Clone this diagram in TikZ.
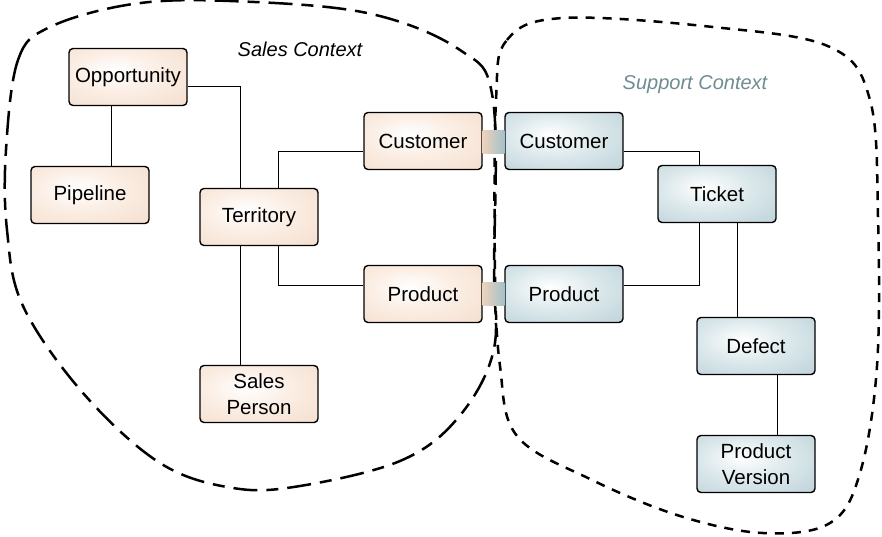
\documentclass[tikz,border=0pt]{standalone}
\usepackage{fontspec}
\setmainfont{Liberation Sans}
\usepackage{tikz}
\usepackage{xcolor}

\definecolor{salesedge}{HTML}{EFD2BC}
\definecolor{salesmid}{HTML}{FBEEE4}
\definecolor{supportedge}{HTML}{A3C1C9}
\definecolor{supportmid}{HTML}{DDE9EC}
\definecolor{supporttext}{HTML}{6E8C92}

\pgfdeclareradialshading{salesshade}{\pgfpoint{-6bp}{6bp}}{color(0bp)=(white); color(18bp)=(salesmid); color(58bp)=(salesedge); color(80bp)=(salesedge)}
\pgfdeclareradialshading{supportshade}{\pgfpoint{-6bp}{6bp}}{color(0bp)=(white); color(18bp)=(supportmid); color(58bp)=(supportedge); color(80bp)=(supportedge)}

\tikzset{
    entity/.style={draw=black, line width=1.4pt, rounded corners=4pt, minimum width=118pt, minimum height=57pt,
        inner sep=0pt, align=center, font=\fontsize{20.5}{26}\selectfont},
    salesbox/.style={entity, shading=salesshade},
    supportbox/.style={entity, shading=supportshade},
    link/.style={line width=1pt},
    contextlabel/.style={font=\fontsize{20}{24}\selectfont\itshape}
}

\begin{document}
\begin{tikzpicture}[x=1pt,y=-1pt]
    \useasboundingbox (0,0) rectangle (882,536);

    % context boundaries
    \draw[line width=2.5pt, dash pattern=on 24pt off 9pt on 12pt off 9pt] plot[smooth cycle, tension=0.6] coordinates {
        (6,150) (18,60) (50,27) (133,4) (230,1) (367,13) (460,50) (493,100) (494,270) (493,353)
        (457,419) (400,461) (300,486) (233,488) (160,463) (83,393) (23,306) (7,230)};
    \draw[line width=2.5pt, dash pattern=on 9pt off 8pt] plot[smooth cycle, tension=0.6] coordinates {
        (496,100) (507,40) (563,18) (713,27) (830,47) (870,100) (878,217) (877,366) (860,473)
        (830,523) (763,533) (680,516) (590,479) (517,436) (500,366) (495,270)};

    \node[contextlabel] (salesctx) at (300,49) {Sales Context};
    \node[contextlabel, text=supporttext] (supportctx) at (695,85) {Support Context};

    % sales entities
    \node[salesbox] (opp) at (128,77) {Opportunity};
    \node[salesbox] (pipe) at (90,195) {Pipeline};
    \node[salesbox] (terr) at (259,217) {Territory};
    \node[salesbox] (sper) at (259,394) {Sales\\Person};
    \node[salesbox] (cust) at (423,141) {Customer};
    \node[salesbox] (prod) at (423,294) {Product};

    % support entities
    \node[supportbox] (scust) at (564,141) {Customer};
    \node[supportbox] (sprod) at (564,294) {Product};
    \node[supportbox] (tick) at (717,194) {Ticket};
    \node[supportbox] (def) at (756,346) {Defect};
    \node[supportbox] (pver) at (756,464) {Product\\Version};

    % shared entities
    \shade[left color=salesedge, right color=supportedge] ([yshift=11pt]cust.east) rectangle ([yshift=-12pt]scust.west);
    \shade[left color=salesedge, right color=supportedge] ([yshift=12pt]prod.east) rectangle ([yshift=-11pt]sprod.west);

    % relations
    \draw[link] ([yshift=-9pt]opp.east) -| ([xshift=-19pt]terr.north);
    \draw[link] ([xshift=-17pt]opp.south) -- ([xshift=-17pt]opp.south |- pipe.north);
    \draw[link] ([xshift=19pt]terr.north) |- ([yshift=-10pt]cust.west);
    \draw[link] ([xshift=19pt]terr.south) |- ([yshift=9pt]prod.west);
    \draw[link] ([xshift=-19pt]terr.south) -- ([xshift=-19pt]terr.south |- sper.north);

    \draw[link] ([yshift=-10pt]scust.east) -| ([xshift=-18pt]tick.north);
    \draw[link] ([xshift=-18pt]tick.south) |- ([yshift=9pt]sprod.east);
    \draw[link] ([xshift=20pt]tick.south) -- ([xshift=20pt]tick.south |- def.north);
    \draw[link] ([xshift=21pt]def.south) -- ([xshift=21pt]def.south |- pver.north);
\end{tikzpicture}
\end{document}
